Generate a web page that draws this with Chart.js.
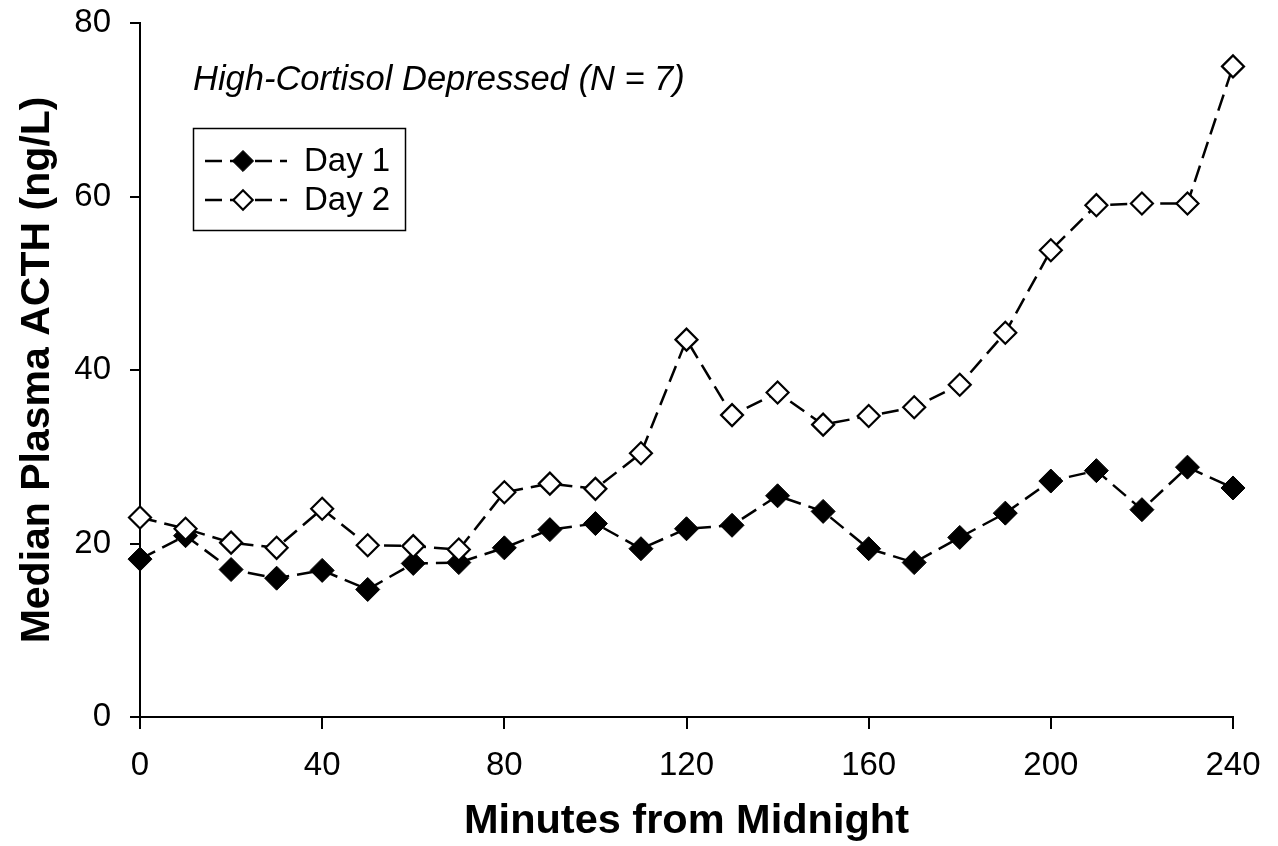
<!DOCTYPE html>
<html>
<head>
<meta charset="utf-8">
<script src="https://cdn.jsdelivr.net/npm/chart.js@4.4.0/dist/chart.umd.min.js"></script>
<style>
  html, body { margin: 0; padding: 0; background: #fff; }
  #wrap { width: 1278px; height: 846px; }
</style>
</head>
<body>
<div id="wrap"><canvas id="acth" width="1278" height="846"></canvas></div>
<script>
// minutes after midnight (sample times)
const minutes = [0, 10, 20, 30, 40, 50, 60, 70, 80, 90, 100, 110, 120,
                 130, 140, 150, 160, 170, 180, 190, 200, 210, 220, 230, 240];

// median plasma ACTH, ng/L
const day1 = [18.2, 20.9, 17.0, 16.0, 16.9, 14.7, 17.7, 17.8, 19.5, 21.6, 22.3, 19.4, 21.7,
              22.1, 25.5, 23.7, 19.4, 17.8, 20.7, 23.5, 27.2, 28.4, 23.9, 28.8, 26.4];
const day2 = [23.0, 21.7, 20.1, 19.5, 24.0, 19.8, 19.7, 19.3, 25.9, 26.9, 26.3, 30.4, 43.5,
              34.8, 37.4, 33.7, 34.7, 35.7, 38.3, 44.3, 53.8, 59.0, 59.2, 59.2, 75.0];

const xTicks = [0, 40, 80, 120, 160, 200, 240];
const yTicks = [0, 20, 40, 60, 80];
const seriesNames = ['Day 1', 'Day 2'];
const groupLabel = 'High-Cortisol Depressed (N = 7)';

const FONT = '"Liberation Sans", Arial, sans-serif';

function points(ys) {
  return minutes.map((m, i) => ({ x: m, y: ys[i] }));
}

// subtitle + boxed legend drawn inside the plot like the original figure
const boxLegend = {
  id: 'boxLegend',
  afterDraw(chart) {
    const ctx = chart.ctx;
    ctx.save();
    ctx.fillStyle = '#000';
    ctx.textBaseline = 'middle';
    ctx.font = 'italic 34.5px ' + FONT;
    ctx.fillText(groupLabel, 193, 80);

    ctx.strokeStyle = '#000';
    ctx.lineWidth = 1.5;
    ctx.strokeRect(193.5, 128.5, 212, 102);

    chart.data.datasets.forEach((ds, i) => {
      const y = 161 + i * 39;
      ctx.setLineDash(ds.borderDash);
      ctx.lineWidth = ds.borderWidth;
      ctx.beginPath();
      ctx.moveTo(205, y);
      ctx.lineTo(287, y);
      ctx.stroke();
      ctx.setLineDash([]);

      const r = ds.pointRadius * 0.88;
      const cx = 243;
      ctx.beginPath();
      ctx.moveTo(cx - r, y);
      ctx.lineTo(cx, y - r);
      ctx.lineTo(cx + r, y);
      ctx.lineTo(cx, y + r);
      ctx.closePath();
      ctx.fillStyle = ds.pointBackgroundColor;
      ctx.fill();
      ctx.lineWidth = ds.pointBorderWidth;
      ctx.stroke();

      ctx.fillStyle = '#000';
      ctx.font = '33px ' + FONT;
      ctx.fillText(ds.label, 304, y + 1);
    });
    ctx.restore();
  }
};

new Chart(document.getElementById('acth'), {
  type: 'line',
  data: {
    datasets: [
      {
        label: seriesNames[0],
        data: points(day1),
        order: 2,
        borderColor: '#000',
        borderWidth: 2.5,
        borderDash: [17, 8],
        pointStyle: 'rectRot',
        pointRadius: 12,
        pointBackgroundColor: '#000',
        pointBorderColor: '#000',
        pointBorderWidth: 1,
        clip: false
      },
      {
        label: seriesNames[1],
        data: points(day2),
        order: 1,
        borderColor: '#000',
        borderWidth: 2.5,
        borderDash: [17, 8],
        pointStyle: 'rectRot',
        pointRadius: 11,
        pointBackgroundColor: '#fff',
        pointBorderColor: '#000',
        pointBorderWidth: 2.2,
        clip: false
      }
    ]
  },
  options: {
    responsive: false,
    animation: false,
    events: [],
    layout: { padding: { left: 0, right: 45, top: 23, bottom: 0 } },
    plugins: {
      legend: { display: false },
      tooltip: { enabled: false }
    },
    scales: {
      x: {
        type: 'linear',
        min: 0,
        max: 240,
        afterBuildTicks: s => { s.ticks = xTicks.map(v => ({ value: v })); },
        afterFit: s => { s.height = 129; },
        grid: { drawOnChartArea: false, drawTicks: true, tickLength: 12, color: '#000', lineWidth: 2 },
        border: { display: true, color: '#000', width: 2 },
        ticks: { color: '#000', padding: 17, maxRotation: 0, font: { family: FONT, size: 33 } },
        title: {
          display: true,
          text: 'Minutes from Midnight',
          color: '#000',
          padding: { top: 0, bottom: 0 },
          font: { family: FONT, size: 41.5, weight: 'bold' }
        }
      },
      y: {
        min: 0,
        max: 80,
        afterBuildTicks: s => { s.ticks = yTicks.map(v => ({ value: v })); },
        afterFit: s => {
          s.width = 140;
          // let the plot reach up to the layout padding, as in the figure
          s.paddingTop = 0;
          s.paddingBottom = 0;
        },
        grid: { drawOnChartArea: false, drawTicks: true, tickLength: 10, color: '#000', lineWidth: 2 },
        border: { display: true, color: '#000', width: 2 },
        ticks: { color: '#000', padding: 19, font: { family: FONT, size: 33 } },
        title: {
          display: true,
          text: 'Median Plasma ACTH (ng/L)',
          color: '#000',
          padding: { top: 13, bottom: 0 },
          font: { family: FONT, size: 41, weight: 'bold' }
        }
      }
    }
  },
  plugins: [boxLegend]
});
</script>
</body>
</html>
